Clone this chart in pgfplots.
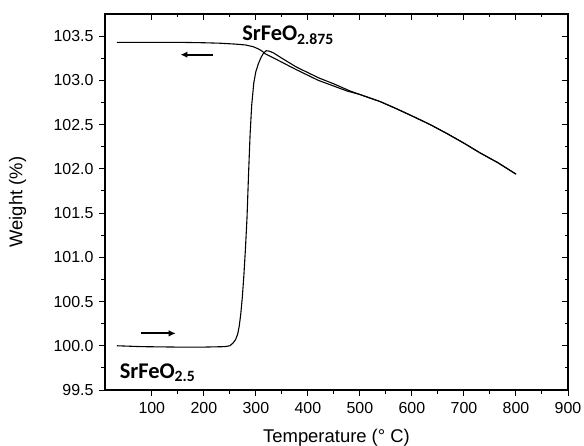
\documentclass[border=0pt]{standalone}
\usepackage{fontspec}
\setmainfont{Liberation Sans}
\newfontfamily\carlito{Carlito}
\usepackage{pgfplots}
\pgfplotsset{compat=1.18}
\usetikzlibrary{arrows.meta,calc}

\pgfplotstableread{
T W
33 100.00
80 99.99
150 99.985
200 99.985
240 99.99
250 100.00
256 100.03
261 100.07
265 100.13
268 100.22
271 100.36
274 100.55
277 100.80
280 101.10
283 101.45
286 101.95
289 102.40
292 102.72
296 102.97
300 103.10
305 103.19
310 103.26
315 103.31
320 103.335
326 103.33
334 103.31
350 103.25
378 103.15
420 103.03
450 102.96
481 102.88
500 102.84
539 102.76
570 102.68
603 102.59
635 102.50
667 102.40
700 102.29
731 102.18
765 102.07
800 101.94
}\heating

\pgfplotstableread{
T W
800 101.94
765 102.07
731 102.18
700 102.29
667 102.40
635 102.50
603 102.59
570 102.68
539 102.76
500 102.84
475 102.88
450 102.935
420 103.00
378 103.12
350 103.205
330 103.265
318 103.30
312 103.33
305 103.355
295 103.38
280 103.40
260 103.41
230 103.42
200 103.425
150 103.43
100 103.43
33 103.43
}\cooling

\begin{document}
\begin{tikzpicture}
\pgfplotsset{
  common/.style={
    scale only axis,
    width=463bp, height=376bp,
    xmin=10, xmax=900, ymin=99.5, ymax=103.75,
    xtick={100,200,...,900},
    ytick={99.5,100,...,103.5},
    minor x tick num=1, minor y tick num=1,
    major tick length=6bp, minor tick length=3.5bp,
    axis line style={line width=1.1pt},
    every tick/.style={line width=1pt, black},
  }
}
\begin{axis}[common, name=ax,
  tick align=outside,
  xtick pos=left, ytick pos=left,
  /pgf/number format/assume math mode=true,
  tick label style={font=\fontsize{16}{19}\selectfont},
  yticklabel style={xshift=-2bp, /pgf/number format/.cd, fixed, fixed zerofill, precision=1},
  xticklabel style={yshift=-3bp, /pgf/number format/.cd, fixed, precision=0},
  xlabel={Temperature (° C)}, ylabel={Weight (\%)},
  label style={font=\fontsize{18.5}{21}\selectfont},
  xlabel style={at={(axis description cs:0.5,-0.128)}, anchor=center},
  ylabel style={at={(axis description cs:-0.189,0.5)}, anchor=center},
]
\addplot[black, line width=1.1pt] table[x=T,y=W] {\heating};
\addplot[black, line width=1.1pt] table[x=T,y=W] {\cooling};
\draw[-{Latex[length=7bp,width=6.5bp]}, line width=2pt] (axis cs:217,103.29) -- (axis cs:155,103.29);
\draw[-{Latex[length=7bp,width=6.5bp]}, line width=2pt] (axis cs:80,100.14) -- (axis cs:146,100.14);
\node[font=\carlito\bfseries\fontsize{22.5}{26}\selectfont, anchor=base west, inner sep=0pt] at (axis cs:273.5,103.445) {SrFeO\textsubscript{2.875}};
\node[font=\carlito\bfseries\fontsize{22.5}{26}\selectfont, anchor=base west, inner sep=0pt] at (axis cs:38,99.635) {SrFeO\textsubscript{2.5}};
\end{axis}
\begin{axis}[common,
  tick align=inside,
  xtick pos=right, ytick pos=right,
  xticklabels={}, yticklabels={},
]
\end{axis}
\pgfresetboundingbox
\path[use as bounding box] ($(ax.south west)+(-105bp,-56bp)$) rectangle ($(ax.north east)+(16bp,14bp)$);
\end{tikzpicture}
\end{document}
